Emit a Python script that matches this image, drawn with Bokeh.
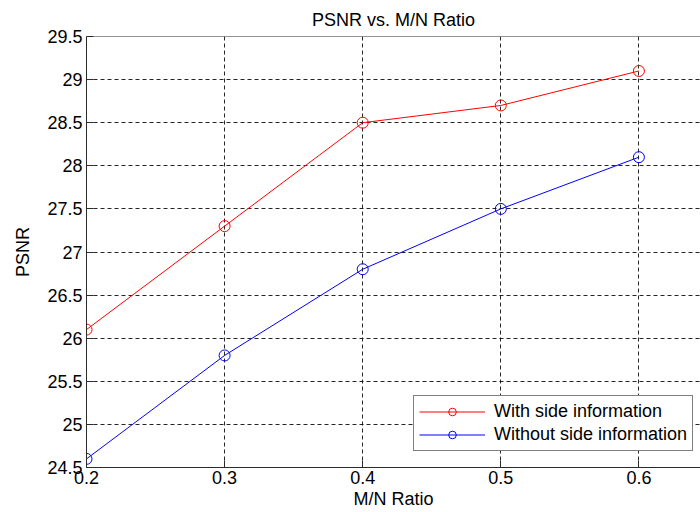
from bokeh.plotting import figure
from bokeh.models import Range1d, Legend, LegendItem, FixedTicker, Span
from bokeh.embed import file_html
from bokeh.resources import INLINE

ratio = [0.2, 0.3, 0.4, 0.5, 0.6]
psnr_with_si = [26.1, 27.3, 28.5, 28.7, 29.1]
psnr_without_si = [24.6, 25.8, 26.8, 27.5, 28.1]
x_ticks = [0.2, 0.3, 0.4, 0.5, 0.6]
y_ticks = [24.5, 25, 25.5, 26, 26.5, 27, 27.5, 28, 28.5, 29, 29.5]
title_text = "PSNR vs. M/N Ratio"
x_label = "M/N Ratio"
y_label = "PSNR"

FONT = "Liberation Sans"
AX = "#2b2b2b"

p = figure(width=700, height=512, output_backend="svg", toolbar_location=None,
           x_range=Range1d(0.2, 0.6446), y_range=Range1d(24.5, 29.5),
           min_border_left=86, min_border_right=0, min_border_top=36,
           min_border_bottom=45, title=title_text)

p.title.text_font = FONT
p.title.text_font_size = "18px"
p.title.text_font_style = "normal"
p.title.align = "center"
p.title.text_color = "#000000"
p.title.standoff = 14
p.title.offset = 2

p.outline_line_color = None
p.add_layout(Span(location=p.y_range.end, dimension="width",
                  line_color=AX, line_width=1))

xax = p.below[0]
yax = p.left[0]
for ax in (xax, yax):
    ax.axis_line_color = AX
    ax.major_tick_line_color = AX
    ax.major_tick_in = 7
    ax.major_tick_out = 0
    ax.minor_tick_line_color = None
    ax.major_label_text_font = FONT
    ax.major_label_text_font_size = "18px"
    ax.major_label_text_color = "#000000"
    ax.axis_label_text_font = FONT
    ax.axis_label_text_font_size = "18px"
    ax.axis_label_text_font_style = "normal"
    ax.axis_label_text_color = "#000000"

xax.ticker = FixedTicker(ticks=x_ticks)
yax.ticker = FixedTicker(ticks=y_ticks)
xax.major_label_overrides = {t: f"{t:g}" for t in x_ticks}
yax.major_label_overrides = {t: f"{t:g}" for t in y_ticks}
xax.axis_label = x_label
yax.axis_label = y_label
xax.major_label_standoff = 3
xax.axis_label_standoff = 2
yax.major_label_standoff = 4
yax.axis_label_standoff = 11

for g in (p.xgrid[0], p.ygrid[0]):
    g.grid_line_color = "#000000"
    g.grid_line_dash = "4 3"
    g.grid_line_width = 1
    g.grid_line_alpha = 0.85

r1 = p.line(ratio, psnr_with_si, line_color="#ff0000", line_width=1)
m1 = p.scatter(ratio, psnr_with_si, marker="circle", size=11, fill_color=None,
               line_color="#ff0000", line_width=1)
r2 = p.line(ratio, psnr_without_si, line_color="#0000ff", line_width=1)
m2 = p.scatter(ratio, psnr_without_si, marker="circle", size=11, fill_color=None,
               line_color="#0000ff", line_width=1)

legend = Legend(items=[
    LegendItem(label="With side information", renderers=[r1, m1]),
    LegendItem(label="Without side information", renderers=[r2, m2]),
], location=(327, 16))
legend.label_text_font = FONT
legend.label_text_font_size = "18px"
legend.label_text_color = "#000000"
legend.border_line_color = "#000000"
legend.border_line_width = 1
legend.background_fill_color = "#ffffff"
legend.background_fill_alpha = 1
legend.glyph_width = 66
legend.glyph_height = 19
legend.label_height = 19
legend.label_standoff = 9
legend.padding = 5
legend.spacing = 2
legend.margin = 0
p.add_layout(legend, "center")

open("out.html", "w").write(file_html(p, INLINE))
